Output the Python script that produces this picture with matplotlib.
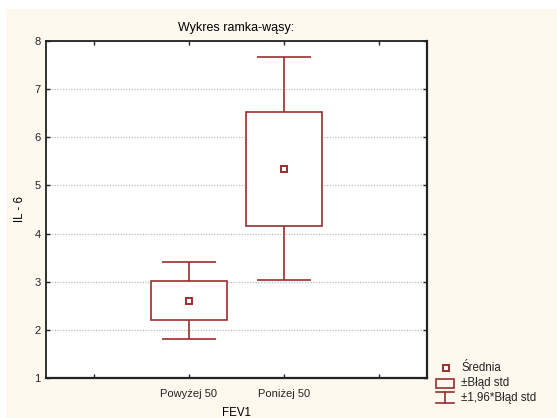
import numpy as np
import matplotlib.pyplot as plt
from matplotlib.patches import Rectangle
from matplotlib.lines import Line2D

plt.rcParams['font.family'] = ['Liberation Sans', 'DejaVu Sans']
plt.rcParams['font.size'] = 8

groups = ["Powyżej 50", "Poniżej 50"]
means = [2.605, 5.35]
se = [0.41, 1.185]
z = 1.96

red = '#992E2E'
cream = '#FEF9EF'

W, H = 557, 418
fig = plt.figure(figsize=(W / 100, H / 100), dpi=100, facecolor='white')
fig.patches.append(Rectangle((6 / W, 0), 1, (H - 9) / H, transform=fig.transFigure,
                             facecolor=cream, edgecolor='none', zorder=-10))

ax = fig.add_axes([46 / W, (H - 378) / H, 381 / W, 337 / H])
ax.set_facecolor('white')

x = np.arange(1, len(groups) + 1)
m = np.array(means)
s = np.array(se)

# whiskers: +-1.96*SE
ax.vlines(x, m + s, m + z * s, color=red, lw=1.2, zorder=3)
ax.vlines(x, m - z * s, m - s, color=red, lw=1.2, zorder=3)
ax.hlines(m + z * s, x - 0.285, x + 0.285, color=red, lw=1.2, zorder=3)
ax.hlines(m - z * s, x - 0.285, x + 0.285, color=red, lw=1.2, zorder=3)
# boxes: +-SE
ax.bar(x, 2 * s, bottom=m - s, width=0.8, facecolor='white', edgecolor=red,
       lw=1.2, zorder=3)
# means
ax.plot(x, m, ls='none', marker='s', ms=5, mfc='white', mec=red, mew=1.4, zorder=4)

ax.set_xlim(-0.5, 3.5)
ax.set_ylim(1, 8)
ax.set_xticks([0, 1, 2, 3])
ax.set_xticklabels(["", groups[0], groups[1], ""])
ax.set_yticks(range(1, 9))
ax.tick_params(direction='in', length=3, width=1, top=True, right=True,
               labelsize=8, pad=4, colors='#222222')
ax.tick_params(axis='x', pad=8)
ax.grid(axis='y', color='#bdbdbd', ls=(0, (1, 1.2)), lw=0.9)
ax.set_axisbelow(True)
for sp in ax.spines.values():
    sp.set_linewidth(1.3)
    sp.set_color('#222222')
ax.spines['right'].set_linewidth(1.6)
ax.spines['bottom'].set_linewidth(1.6)

ax.set_title("Wykres ramka-wąsy:", fontsize=9, pad=7)
ax.set_xlabel("FEV1", fontsize=8.3, labelpad=6)
ax.set_ylabel("IL - 6", fontsize=8.3, labelpad=6)

# legend drawn in figure pixels
def fx(px):
    return px / W

def fy(py):
    return 1 - py / H

tf = fig.transFigure
fig.add_artist(Line2D([fx(446)], [fy(368)], marker='s', ms=5, mfc='white', mec=red,
                      mew=1.4, ls='none', transform=tf))
fig.add_artist(Rectangle((fx(436), fy(388)), fx(454) - fx(436), fy(379) - fy(388),
                         facecolor='none', edgecolor=red, lw=1.2, transform=tf))
fig.add_artist(Line2D([fx(436), fx(454)], [fy(392), fy(392)], color=red, lw=1.2, transform=tf))
fig.add_artist(Line2D([fx(436), fx(454)], [fy(403), fy(403)], color=red, lw=1.2, transform=tf))
fig.add_artist(Line2D([fx(445), fx(445)], [fy(392), fy(403)], color=red, lw=1.2, transform=tf))
for label, py in [("Średnia", 368), ("±Błąd std", 383), ("±1,96*Błąd std", 398)]:
    fig.text(fx(461), fy(py), label, fontsize=8.3, va='center', ha='left', color='#222222')

fig.savefig('out.png', dpi=100, facecolor=fig.get_facecolor())
